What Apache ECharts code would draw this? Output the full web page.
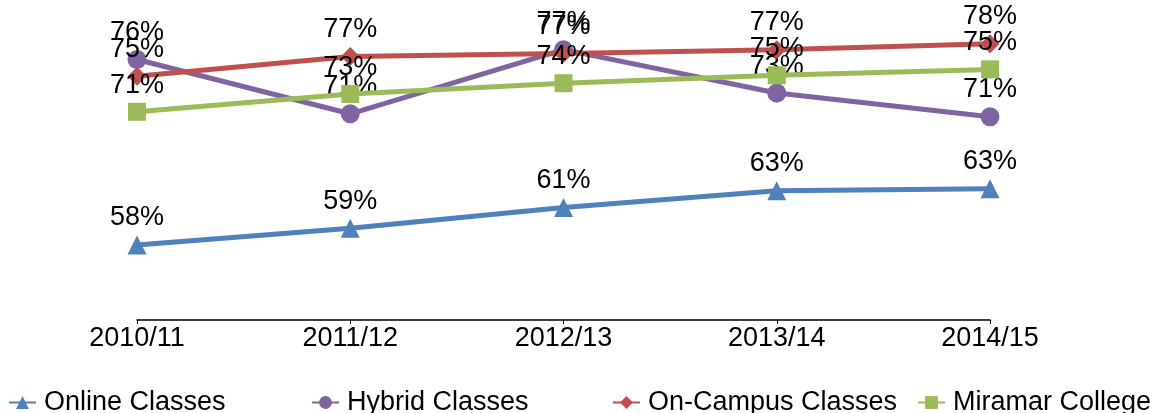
<!DOCTYPE html>
<html>
<head>
<meta charset="utf-8">
<script src="https://cdn.jsdelivr.net/npm/echarts@6/dist/echarts.min.js"></script>
<style>
html,body{margin:0;padding:0;background:#fff;}
#chart{width:1154px;height:413px;}
</style>
</head>
<body>
<div id="chart"></div>
<script>
const categories = ['2010/11', '2011/12', '2012/13', '2013/14', '2014/15'];
const seriesNames = ['Online Classes', 'Hybrid Classes', 'On-Campus Classes', 'Miramar College'];
const online = [57.6, 59.3, 61.4, 63.1, 63.3];
const hybrid = [76.4, 70.9, 77.4, 73.0, 70.6];
const onCampus = [74.7, 76.7, 77.0, 77.4, 78.0];
const miramar = [71.1, 72.9, 74.0, 74.8, 75.4];

const colors = ['#4F81BD', '#8064A2', '#C0504D', '#9BBB59'];
const symbols = ['triangle', 'circle', 'diamond', 'rect'];
const symbolSizes = [19, 19, 19, 18];
const allData = [online, hybrid, onCampus, miramar];
const FONT = 'Liberation Sans, Arial, sans-serif';

const chart = echarts.init(document.getElementById('chart'), null, {renderer: 'canvas'});

const legendLefts = [3, 306, 607, 912];

const option = {
  animation: false,
  backgroundColor: '#ffffff',
  grid: {left: 137, right: 164, top: 24, bottom: 93, containLabel: false},
  xAxis: {
    type: 'category',
    data: categories,
    boundaryGap: false,
    axisLine: {show: true, lineStyle: {color: '#000', width: 1.5}},
    axisTick: {show: true, length: 4, lineStyle: {color: '#000'}},
    axisLabel: {color: '#000', fontSize: 27, fontFamily: FONT, margin: 5}
  },
  yAxis: {
    type: 'value',
    min: 50,
    max: 80,
    show: false,
    splitLine: {show: false}
  },
  legend: seriesNames.map((n, i) => ({
    data: [n],
    left: legendLefts[i],
    top: 384,
    itemWidth: 27,
    itemHeight: 16,
    itemGap: 0,
    textStyle: {color: '#000', fontSize: 27, fontFamily: FONT, padding: [0, 0, 0, 3]}
  })),
  series: seriesNames.map((n, i) => ({
    name: n,
    type: 'line',
    data: allData[i],
    z: 2 + i,
    symbol: symbols[i],
    symbolSize: symbolSizes[i],
    showAllSymbol: true,
    lineStyle: {color: colors[i], width: 5},
    itemStyle: {color: colors[i]},
    label: {
      show: true,
      position: 'top',
      distance: 4,
      color: '#000',
      fontSize: 27,
      fontFamily: FONT,
      formatter: p => Math.round(p.value) + '%'
    },
    labelLayout: {hideOverlap: false}
  }))
};
chart.setOption(option);
</script>
</body>
</html>
